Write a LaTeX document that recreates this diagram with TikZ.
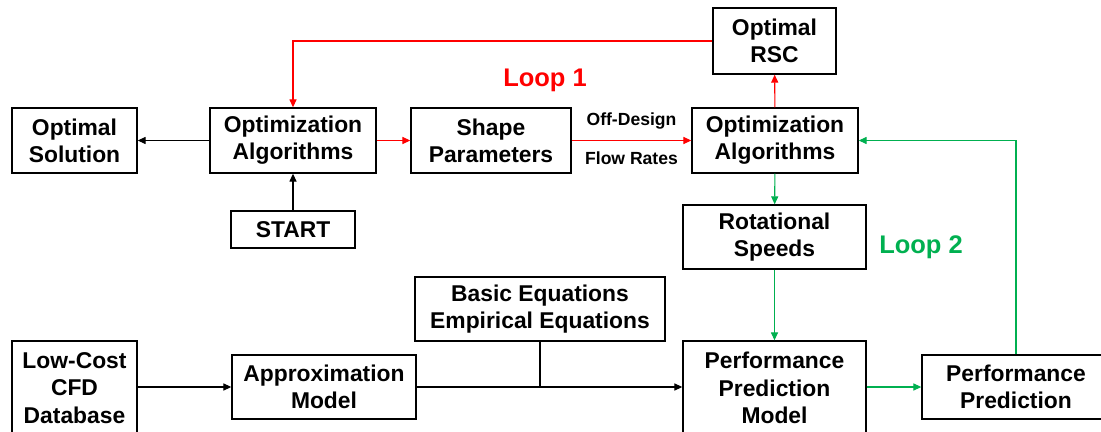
\documentclass[tikz,border=0pt]{standalone}
\usepackage{fontspec}
\setmainfont{Liberation Sans}
\usetikzlibrary{arrows.meta, calc}
\definecolor{loopred}{RGB}{255,0,0}
\definecolor{loopgreen}{RGB}{0,176,80}

\begin{document}
\begin{tikzpicture}[
    x=0.02cm, y=-0.02cm,
    >={Triangle[length=4.5pt,width=4pt]},
    block/.style={rectangle, draw=black, line width=0.8pt, fill=white, align=center, inner sep=2pt, font=\fontsize{13}{15.5}\selectfont\bfseries},
    edgelabel/.style={font=\fontsize{10}{12}\selectfont\bfseries},
    looplabel/.style={font=\fontsize{14.5}{17}\selectfont\bfseries},
    link/.style={->, line width=0.6pt}
]
    \useasboundingbox (0,0) rectangle (1101,432);

    \node[block, minimum width=2.5cm, minimum height=1.3cm] at (74.5, 140.5) (optsol) {Optimal \\ Solution};
    \node[block, minimum width=3.32cm, minimum height=1.3cm] at (293, 140.5) (optalgA) {Optimization \\ Algorithms};
    \node[block, minimum width=3.2cm, minimum height=1.3cm] at (491, 140.5) (shape) {Shape \\ Parameters};
    \node[block, minimum width=3.32cm, minimum height=1.3cm] at (775, 140.5) (optalgB) {Optimization \\ Algorithms};
    \node[block, minimum width=2.46cm, minimum height=1.32cm] at (774.5, 41) (rsc) {Optimal \\ RSC};
    \node[block, minimum width=2.48cm, minimum height=0.74cm] at (293, 229.5) (start) {START};
    \node[block, minimum width=3.66cm, minimum height=1.28cm] at (774.5, 237) (rot) {Rotational \\ Speeds};
    \node[block, minimum width=5cm, minimum height=1.28cm] at (540, 309) (basic) {Basic Equations \\ Empirical Equations};
    \node[block, minimum width=2.5cm, minimum height=1.88cm] at (74.5, 388) (cfd) {Low-Cost \\ CFD \\ Database};
    \node[block, minimum width=3.68cm, minimum height=1.28cm] at (324, 387) (approx) {Approximation \\ Model};
    \node[block, minimum width=3.66cm, minimum height=1.88cm] at (774.5, 388) (ppm) {Performance \\ Prediction \\ Model};
    \node[block, minimum width=3.76cm, minimum height=1.28cm] at (1016, 387) (perf) {Performance \\ Prediction};

    \node[looplabel, text=loopred] at (545, 80) (loopA) {Loop 1};
    \node[looplabel, text=loopgreen] at (921, 247) (loopB) {Loop 2};

    \coordinate (join) at (basic.south |- approx.east);

    % black links
    \draw[link] (optalgA) -- (optsol);
    \draw[link] (start) -- (optalgA);
    \draw[link] (cfd.east |- approx.west) -- (approx.west);
    \draw[line width=0.6pt] (basic.south) -- (join);
    \draw[link] (approx.east) -- (ppm.west |- approx.east);

    % loop 1
    \draw[link, loopred] (optalgA) -- (shape);
    \draw[link, loopred] (shape) -- (optalgB)
        node[midway, above=3pt, edgelabel, text=black] (offdesign) {Off-Design}
        node[midway, below=3pt, edgelabel, text=black] (flowrates) {Flow Rates};
    \draw[link, loopred] (optalgB) -- (rsc);
    \draw[link, loopred] (rsc.west) -| (optalgA.north);

    % loop 2
    \draw[link, loopgreen] (optalgB) -- (rot);
    \draw[link, loopgreen] (rot) -- (ppm);
    \draw[link, loopgreen] (ppm.east |- perf.west) -- (perf.west);
    \draw[link, loopgreen] (perf.north) |- (optalgB.east);
\end{tikzpicture}
\end{document}
